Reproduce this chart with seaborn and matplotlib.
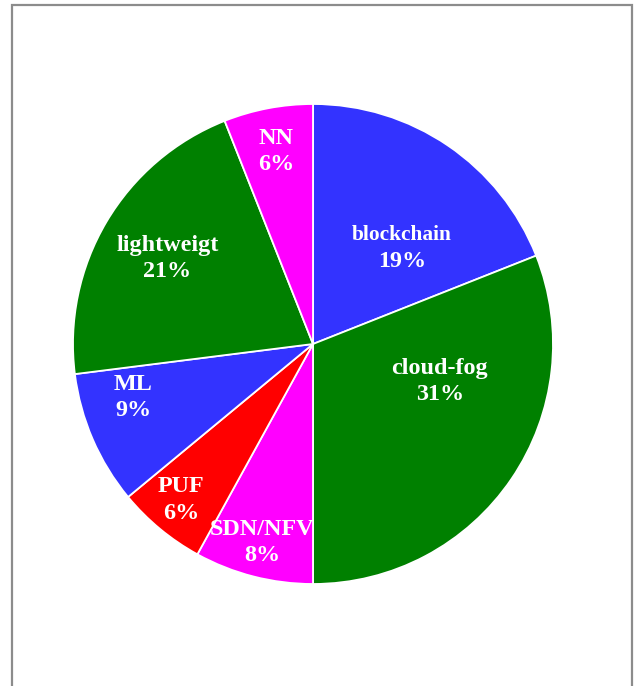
import matplotlib
matplotlib.use("Agg")
import matplotlib.pyplot as plt
import seaborn as sns
import numpy as np
from matplotlib.patches import Rectangle

categories = ["blockchain", "cloud-fog", "SDN/NFV", "PUF", "ML", "lightweigt", "NN"]
values = [19, 31, 8, 6, 9, 21, 6]
colors = ["#3333ff", "#008000", "#ff00ff", "#ff0000", "#3333ff", "#008000", "#ff00ff"]

# layout tweaks for label placement (radius fraction, angular offset in degrees)
label_r = [0.545, 0.55, 0.85, 0.85, 0.78, 0.705, 0.82]
label_dang = [-8.5, 18.0, 0.0, -0.8, -7.0, 0.0, 0.0]
name_sizes = [15.4, 17.4, 17.4, 17.4, 17.4, 17.4, 17.4]

sns.set_theme(style="white")
plt.rcParams["font.family"] = ["Liberation Serif", "DejaVu Serif"]

W, H = 634, 686
fig = plt.figure(figsize=(W / 100, H / 100), dpi=100)
fig.patch.set_facecolor("white")

# frame
fig.patches.append(Rectangle((12 / W, -0.05), 620 / W, 1.05 - 5 / H,
                             transform=fig.transFigure, fill=False,
                             edgecolor="#8c8c8c", linewidth=1.6))

cx, cy, R = 313, 344, 240
ax = fig.add_axes([(cx - R) / W, (H - cy - R) / H, 2 * R / W, 2 * R / H])
wedges, _ = ax.pie(values, colors=colors, startangle=90, counterclock=False,
                   radius=1.0, wedgeprops=dict(edgecolor="white", linewidth=1.3))
ax.set_xlim(-1, 1)
ax.set_ylim(-1, 1)
ax.set_aspect("equal")
ax.axis("off")

total = sum(values)
for w, name, v, r, da, fs in zip(wedges, categories, values, label_r, label_dang, name_sizes):
    ang = np.deg2rad((w.theta1 + w.theta2) / 2 + da)
    x, y = r * np.cos(ang), r * np.sin(ang)
    ax.text(x, y + 0.052, name, ha="center", va="center", color="white",
            fontsize=fs, fontweight="bold")
    ax.text(x, y - 0.058, f"{round(100 * v / total)}%", ha="center", va="center",
            color="white", fontsize=17.4, fontweight="bold")

fig.savefig("out.png", dpi=100, facecolor="white")
